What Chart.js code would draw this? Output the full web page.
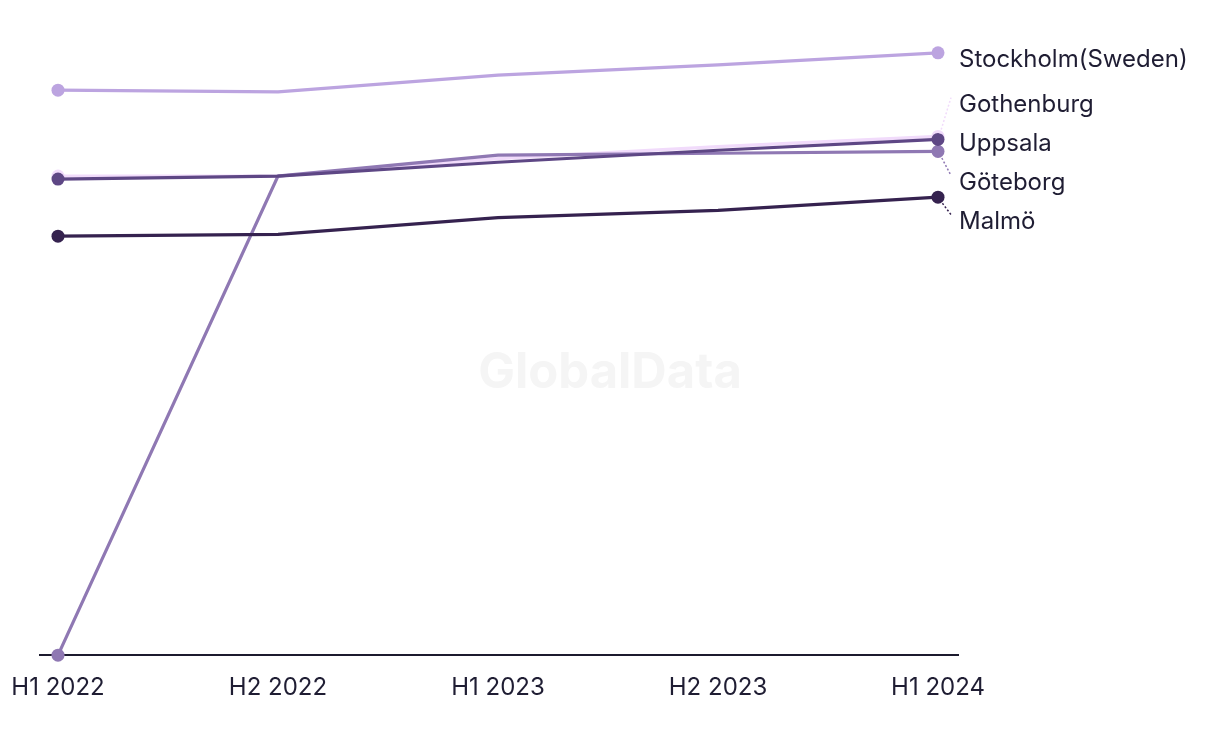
<!DOCTYPE html>
<html>
<head>
<meta charset="utf-8">
<script src="https://cdn.jsdelivr.net/npm/chart.js@4/dist/chart.umd.min.js"></script>
<style>
html,body{margin:0;padding:0;background:#fff;}
#wrap{width:1220px;height:744px;position:relative;}
</style>
</head>
<body>
<div id="wrap"><canvas id="c" width="1220" height="744"></canvas></div>
<script>
const periods = ["H1 2022", "H2 2022", "H1 2023", "H2 2023", "H1 2024"];
const seriesNames = ["Stockholm(Sweden)", "Gothenburg", "Uppsala", "Göteborg", "Malmö"];
const stockholm = [94.0, 93.7, 96.5, 98.2, 100.2];
const gothenburg = [79.7, 79.7, 82.6, 84.6, 86.3];
const uppsala = [79.2, 79.7, 82.0, 84.0, 85.8];
const goteborg = [0, 79.7, 83.2, 83.5, 83.8];
const malmo = [69.7, 70.0, 72.8, 74.0, 76.2];
const colors = ["#bca4e0", "#f1dbfb", "#5e4785", "#8f78b3", "#35224f"];
const drawOrder = [0, 3, 1, 2, 0];

const allValues = [stockholm, gothenburg, uppsala, goteborg, malmo];
const textColor = "#1f1d33";
const fontFamily = "Inter, 'Liberation Sans', sans-serif";

const datasets = allValues.map((vals, i) => ({
  label: seriesNames[i],
  data: vals.map((v, j) => ({x: j, y: v})),
  borderColor: colors[i],
  backgroundColor: colors[i],
  pointBackgroundColor: colors[i],
  pointBorderWidth: 0,
  borderWidth: 3.2,
  pointRadius: (ctx) => (ctx.dataIndex === 0 || ctx.dataIndex === vals.length - 1) ? 6.5 : 0,
  pointHoverRadius: 0,
  tension: 0,
  clip: false,
  order: drawOrder[i]
}));

const watermark = {
  id: 'watermark',
  beforeDatasetsDraw(chart) {
    const ctx = chart.ctx;
    ctx.save();
    ctx.font = "bold 49px " + fontFamily;
    ctx.fillStyle = "#f5f5f5";
    ctx.textAlign = "center";
    ctx.textBaseline = "middle";
    ctx.fillText("GlobalData", 610, 373);
    ctx.restore();
  }
};

const endLabels = {
  id: 'endLabels',
  afterDatasetsDraw(chart) {
    const ctx = chart.ctx;
    const xs = chart.scales.x, ys = chart.scales.y;
    const last = periods.length - 1;
    const items = allValues.map((vals, i) => ({
      i, px: xs.getPixelForValue(last), py: ys.getPixelForValue(vals[last])
    })).sort((a, b) => a.py - b.py);
    const gap = 39;
    let clusters = items.map(it => ({items: [it], mean: it.py}));
    let changed = true;
    const pos = c => c.mean - (c.items.length - 1) * gap / 2;
    while (changed) {
      changed = false;
      for (let k = 0; k < clusters.length - 1; k++) {
        const a = clusters[k], b = clusters[k + 1];
        const aEnd = pos(a) + (a.items.length - 1) * gap;
        if (pos(b) - aEnd < gap) {
          const its = a.items.concat(b.items);
          clusters.splice(k, 2, {items: its, mean: its.reduce((s, t) => s + t.py, 0) / its.length});
          changed = true;
          break;
        }
      }
    }
    ctx.save();
    clusters.forEach(c => {
      c.items.forEach((it, k) => {
        const ly = pos(c) + k * gap;
        if (Math.abs(ly - it.py) > 6) {
          ctx.strokeStyle = colors[it.i];
          ctx.lineWidth = 1.5;
          ctx.setLineDash([2, 2]);
          ctx.beginPath();
          ctx.moveTo(it.px + 2, it.py + (ly > it.py ? 3 : -3));
          ctx.lineTo(it.px + 13, ly);
          ctx.stroke();
          ctx.setLineDash([]);
        }
        ctx.fillStyle = textColor;
        ctx.font = "24px " + fontFamily;
        ctx.textAlign = "left";
        ctx.textBaseline = "middle";
        ctx.fillText(seriesNames[it.i], it.px + 21, ly + 7);
      });
    });
    ctx.restore();
  }
};

new Chart(document.getElementById('c'), {
  type: 'line',
  data: {datasets},
  options: {
    responsive: false,
    animation: false,
    events: [],
    layout: {padding: {left: 40, right: 262, top: 24, bottom: 24}},
    plugins: {legend: {display: false}, tooltip: {enabled: false}},
    scales: {
      x: {
        type: 'linear',
        min: -18 / 220,
        max: 4 + 20 / 220,
        afterBuildTicks: (axis) => { axis.ticks = periods.map((p, j) => ({value: j})); },
        afterFit: (s) => { s.paddingLeft = 0; s.paddingRight = 0; },
        grid: {display: false, drawTicks: false},
        border: {display: true, color: "#1c1a2e", width: 2},
        ticks: {
          padding: 18,
          autoSkip: false,
          maxRotation: 0,
          color: textColor,
          font: {family: fontFamily, size: 24},
          callback: (v) => periods[v] ?? ''
        }
      },
      y: {
        display: false,
        min: 0,
        max: 105
      }
    }
  },
  plugins: [watermark, endLabels]
});
</script>
</body>
</html>
